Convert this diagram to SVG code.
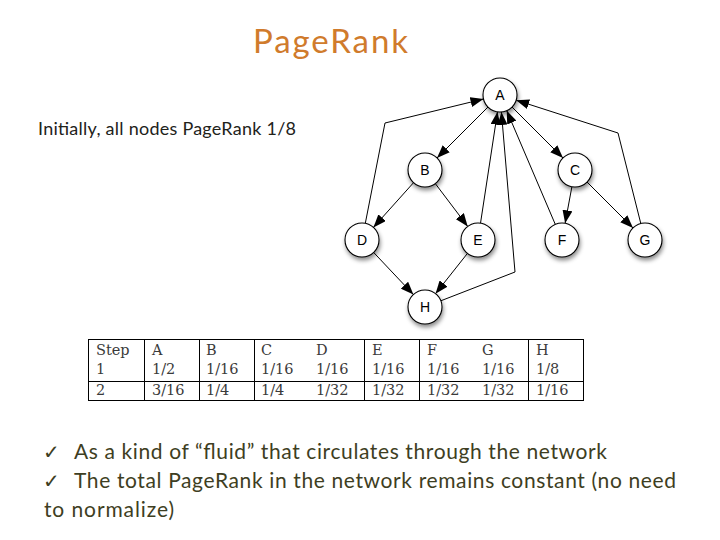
<svg xmlns="http://www.w3.org/2000/svg" width="720" height="540" viewBox="0 0 720 540">
<defs>
<style>
.title{font-family:Lato,"Open Sans",sans-serif;font-size:33px;fill:#D07B2C}
.body{font-family:Lato,"Open Sans",sans-serif;fill:#22221a}
.bul{font-family:Lato,"Open Sans",sans-serif;font-size:21px;fill:#3e3e22}
.chk{font-family:"DejaVu Sans",sans-serif;font-size:20px;fill:#3e3e22}
.node circle{fill:#fff;stroke:#000;stroke-width:1.1;filter:url(#sh)}
.node text{font-family:"Liberation Sans",Arial,sans-serif;font-size:14px;text-anchor:middle;fill:#000}
.edge{fill:none;stroke:#000;stroke-width:1;marker-end:url(#ah)}
.tbl line{stroke:#000;stroke-width:1}
.tbl text{font-family:"DejaVu Serif",serif;font-size:14.5px;fill:#3a3a3a}
</style>
<marker id="ah" markerUnits="userSpaceOnUse" markerWidth="13" markerHeight="10" refX="13" refY="5" orient="auto">
<path d="M0,0 L13,5 L0,10 z" fill="#000"/>
</marker>
<filter id="sh" x="-50%" y="-50%" width="200%" height="200%">
<feDropShadow dx="1" dy="3" stdDeviation="2" flood-color="#000" flood-opacity="0.45"/>
</filter>
</defs>
<rect width="720" height="540" fill="#fff"/>
<text class="title" x="253" y="53" textLength="155">PageRank</text>
<text class="body" x="38" y="135" font-size="18" textLength="258">Initially, all nodes PageRank 1/8</text>

<g id="connectors">
<polyline class="edge" points="365.3,223.3 385,123 483.5,99"/>
<line class="edge" x1="488" y1="107" x2="437" y2="158"/>
<line class="edge" x1="512" y1="107" x2="563" y2="158"/>
<line class="edge" x1="413.6" y1="182.6" x2="373.4" y2="227.4"/>
<line class="edge" x1="435.3" y1="183.6" x2="467.7" y2="226.4"/>
<line class="edge" x1="480.5" y1="223.2" x2="497.5" y2="111.8"/>
<polyline class="edge" points="440.8,300.8 515,272 501.4,112"/>
<line class="edge" x1="555.3" y1="224.4" x2="506.7" y2="110.6"/>
<line class="edge" x1="571.9" y1="186.7" x2="565.1" y2="223.3"/>
<line class="edge" x1="587" y1="182" x2="633" y2="228"/>
<polyline class="edge" points="640.8,223.5 618,133 516.2,100.2"/>
<line class="edge" x1="373.6" y1="252.4" x2="413.4" y2="294.6"/>
<line class="edge" x1="467.5" y1="253.3" x2="435.5" y2="293.7"/>
</g>

<g id="nodeA" class="node"><circle cx="500" cy="95" r="17"/><text x="500" y="100">A</text></g>
<g id="nodeB" class="node"><circle cx="425" cy="170" r="17"/><text x="425" y="175">B</text></g>
<g id="nodeC" class="node"><circle cx="575" cy="170" r="17"/><text x="575" y="175">C</text></g>
<g id="nodeD" class="node"><circle cx="362" cy="240" r="17"/><text x="362" y="245">D</text></g>
<g id="nodeE" class="node"><circle cx="478" cy="240" r="17"/><text x="478" y="245">E</text></g>
<g id="nodeF" class="node"><circle cx="562" cy="240" r="17"/><text x="562" y="245">F</text></g>
<g id="nodeG" class="node"><circle cx="645" cy="240" r="17"/><text x="645" y="245">G</text></g>
<g id="nodeH" class="node"><circle cx="425" cy="307" r="17"/><text x="425" y="312">H</text></g>

<g id="table" class="tbl">
<line x1="88" y1="339.5" x2="584" y2="339.5"/>
<line x1="88" y1="381.5" x2="584" y2="381.5"/>
<line x1="88" y1="400.5" x2="584" y2="400.5"/>
<line x1="88.5" y1="339" x2="88.5" y2="401"/>
<line x1="144.5" y1="339" x2="144.5" y2="401"/>
<line x1="199.5" y1="339" x2="199.5" y2="401"/>
<line x1="254.5" y1="339" x2="254.5" y2="401"/>
<line x1="364.5" y1="339" x2="364.5" y2="401"/>
<line x1="419.5" y1="339" x2="419.5" y2="401"/>
<line x1="528.5" y1="339" x2="528.5" y2="401"/>
<line x1="583.5" y1="339" x2="583.5" y2="401"/>
<text x="96" y="355">Step</text><text x="152" y="355">A</text><text x="206" y="355">B</text><text x="261" y="355">C</text><text x="316" y="355">D</text><text x="372" y="355">E</text><text x="427" y="355">F</text><text x="482" y="355">G</text><text x="536" y="355">H</text>
<text x="96" y="374">1</text><text x="152" y="374">1/2</text><text x="206" y="374">1/16</text><text x="261" y="374">1/16</text><text x="316" y="374">1/16</text><text x="372" y="374">1/16</text><text x="427" y="374">1/16</text><text x="482" y="374">1/16</text><text x="536" y="374">1/8</text>
<text x="96" y="395">2</text><text x="152" y="395">3/16</text><text x="206" y="395">1/4</text><text x="261" y="395">1/4</text><text x="316" y="395">1/32</text><text x="372" y="395">1/32</text><text x="427" y="395">1/32</text><text x="482" y="395">1/32</text><text x="536" y="395">1/16</text>
</g>

<text class="chk" x="43" y="459">✓</text>
<text class="bul" x="74" y="459" textLength="533">As a kind of “fluid” that circulates through the network</text>
<text class="chk" x="43" y="488">✓</text>
<text class="bul" x="74" y="488" textLength="602">The total PageRank in the network remains constant (no need</text>
<text class="bul" x="44" y="517" textLength="130">to normalize)</text>
</svg>
